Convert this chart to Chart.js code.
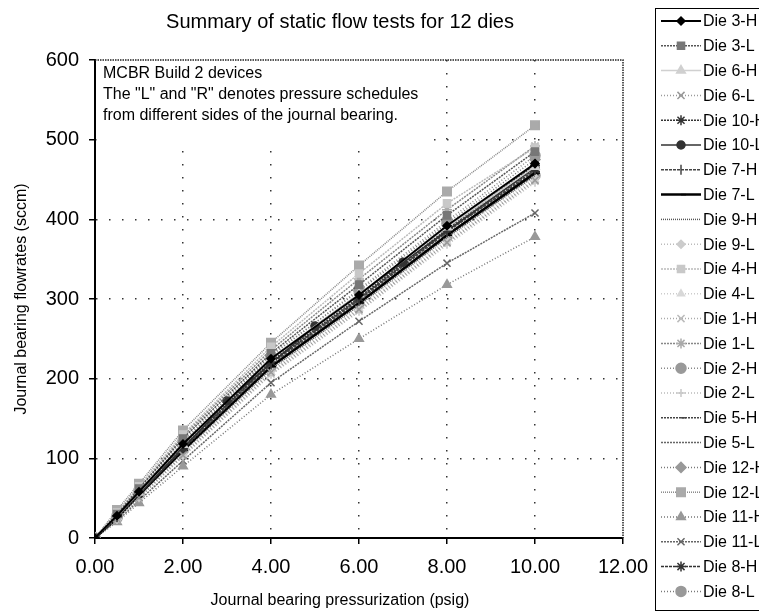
<!DOCTYPE html>
<html>
<head>
<meta charset="utf-8">
<title>Summary of static flow tests for 12 dies</title>
<script src="https://cdn.jsdelivr.net/npm/chart.js@4.4.1/dist/chart.umd.min.js"></script>
<style>
  html, body { margin: 0; padding: 0; background: #fff; }
  #wrap { width: 759px; height: 616px; position: relative; }
</style>
</head>
<body>
<div id="wrap"><canvas id="chart"></canvas></div>
<script>
// === DATA ===
// pressurization (psig) at which each die was measured
const P_STD = [0, 0.5, 1, 2, 4, 6, 8, 10];
const P_ALT = [0, 1, 2, 3, 5, 7, 10];

const X_TICKS = [0, 2, 4, 6, 8, 10, 12];
const Y_TICKS = [0, 100, 200, 300, 400, 500, 600];

// flowrates (sccm)
const die3H  = [0, 28, 58, 118, 225, 305, 392, 470];
const die3L  = [0, 30, 62, 125, 232, 318, 405, 485];
const die6H  = [0, 27, 57, 117, 226, 306, 390, 466];
const die6L  = [0, 24, 51, 104, 208, 287, 371, 449];
const die10H = [0, 27, 57, 115, 222, 302, 388, 468];
const die10L = [0, 55, 112, 172, 266, 346, 465];
const die7H  = [0, 26, 55, 112, 218, 298, 384, 462];
const die7L  = [0, 25, 54, 110, 215, 295, 380, 458];
const die9H  = [0, 25, 53, 108, 212, 292, 377, 455];
const die9L  = [0, 24, 52, 106, 210, 290, 374, 452];
const die4H  = [0, 32, 65, 130, 240, 332, 420, 490];
const die4L  = [0, 24, 52, 105, 208, 288, 372, 450];
const die1H  = [0, 23, 50, 103, 206, 285, 370, 448];
const die1L  = [0, 30, 62, 128, 236, 325, 412, 492];
const die2H  = [0, 28, 60, 122, 228, 312, 398, 480];
const die2L  = [0, 23, 50, 102, 205, 284, 368, 446];
const die5H  = [0, 26, 56, 113, 220, 300, 386, 463];
const die5L  = [0, 25, 54, 111, 216, 296, 381, 459];
const die12H = [0, 27, 58, 120, 230, 310, 395, 475];
const die12L = [0, 35, 68, 135, 245, 342, 435, 518];
const die11H = [0, 20, 44, 90, 180, 250, 318, 378];
const die11L = [0, 22, 47, 97, 195, 272, 345, 408];
const die8H  = [0, 26, 56, 114, 220, 300, 385, 460];
const die8L  = [0, 25, 55, 110, 215, 294, 378, 455];

const NOTE_LINES = [
  "MCBR Build 2 devices",
  "The \"L\" and \"R\" denotes pressure schedules",
  "from different sides of the journal bearing."
];

// === STYLES (excel grayscale look) ===
// [label, x, y, line colour, dash, line width, marker, marker size, marker colour]
const series = [
  ["Die 3-H",  P_STD, die3H,  "#000", [],     2,   "rectRot",  4, "#000"],
  ["Die 3-L",  P_STD, die3L,  "#555", [2, 1], 1.5, "rect",     5, "#777"],
  ["Die 6-H",  P_STD, die6H,  "#d0d0d0", [],  1.5, "triangle", 5, "#d0d0d0"],
  ["Die 6-L",  P_STD, die6L,  "#999", [1, 2], 1.5, "crossRot", 5, "#999"],
  ["Die 10-H", P_STD, die10H, "#333", [2, 1], 1.5, "star",     5, "#333"],
  ["Die 10-L", P_ALT, die10L, "#333", [],     1.5, "circle",   4, "#333"],
  ["Die 7-H",  P_STD, die7H,  "#444", [3, 1], 1.5, "line",     5, "#444"],
  ["Die 7-L",  P_STD, die7L,  "#000", [],     2.5, "dash",     5, "#000"],
  ["Die 9-H",  P_STD, die9H,  "#555", [1, 1], 1.5, false,      0, "#555"],
  ["Die 9-L",  P_STD, die9L,  "#bbb", [1, 2], 1.5, "rectRot",  4, "#ccc"],
  ["Die 4-H",  P_STD, die4H,  "#bbb", [2, 1], 1.5, "rect",     5, "#c8c8c8"],
  ["Die 4-L",  P_STD, die4L,  "#ccc", [1, 2], 1.5, "triangle", 4, "#d8d8d8"],
  ["Die 1-H",  P_STD, die1H,  "#aaa", [1, 2], 1.5, "crossRot", 5, "#bbb"],
  ["Die 1-L",  P_STD, die1L,  "#888", [2, 1], 1.5, "star",     5, "#aaa"],
  ["Die 2-H",  P_STD, die2H,  "#888", [1, 2], 1.5, "circle",   5, "#999"],
  ["Die 2-L",  P_STD, die2L,  "#bbb", [1, 2], 1.5, "cross",    4, "#c8c8c8"],
  ["Die 5-H",  P_STD, die5H,  "#444", [2, 1], 1.5, "dash",     5, "#444"],
  ["Die 5-L",  P_STD, die5L,  "#666", [2, 1], 1.5, false,      0, "#666"],
  ["Die 12-H", P_STD, die12H, "#777", [1, 2], 1.5, "rectRot",  5, "#999"],
  ["Die 12-L", P_STD, die12L, "#888", [1, 1], 1.5, "rect",     6, "#aaa"],
  ["Die 11-H", P_STD, die11H, "#777", [1, 2], 1.5, "triangle", 5, "#999"],
  ["Die 11-L", P_STD, die11L, "#666", [2, 1], 1.5, "crossRot", 5, "#666"],
  ["Die 8-H",  P_STD, die8H,  "#333", [3, 1], 1.5, "star",     5, "#333"],
  ["Die 8-L",  P_STD, die8L,  "#777", [1, 2], 1.5, "circle",   5, "#999"]
];

const FONT = "Arial, 'Liberation Sans', Helvetica, sans-serif";

const datasets = series.map(s => ({
  label: s[0],
  data: s[1].map((x, i) => ({ x: x, y: s[2][i] })),
  showLine: true,
  borderColor: s[3],
  borderDash: s[4],
  borderWidth: s[5],
  pointStyle: s[6],
  pointRadius: s[7],
  pointRotation: s[6] === "line" ? 90 : 0,
  pointBackgroundColor: s[8],
  pointBorderColor: s[8],
  pointBorderWidth: 1.5,
  tension: 0
}));

const hideEdges = (ctx) => {
  const v = ctx.tick && ctx.tick.value;
  const max = ctx.scale.max;
  return (v === 0 || v === max) ? "rgba(0,0,0,0)" : "#333";
};

// === PLUGINS ===
const decor = {
  id: "decor",
  beforeDatasetsDraw(chart) {
    const { ctx, chartArea: a } = chart;
    ctx.save();
    // note box covering the grid in the upper left
    ctx.fillStyle = "#fff";
    ctx.fillRect(a.left + 1.5, a.top, 333, 82);
    ctx.fillStyle = "#000";
    ctx.font = "16px " + FONT;
    ctx.textBaseline = "middle";
    NOTE_LINES.forEach((t, i) => ctx.fillText(t, a.left + 8, a.top + 14 + i * 21));
    // dotted top and right frame
    ctx.strokeStyle = "#222";
    ctx.lineWidth = 1.5;
    ctx.setLineDash([1.5, 1]);
    ctx.beginPath();
    ctx.moveTo(a.left, a.top);
    ctx.lineTo(a.right, a.top);
    ctx.lineTo(a.right, a.bottom);
    ctx.stroke();
    ctx.restore();
  },
  afterDraw(chart) {
    const { ctx, chartArea: a } = chart;
    ctx.save();
    ctx.fillStyle = "#000";
    ctx.textAlign = "center";
    ctx.textBaseline = "middle";
    ctx.font = "20px " + FONT;
    ctx.fillText("Summary of static flow tests for 12 dies", 340, 22);
    ctx.font = "16px " + FONT;
    ctx.fillText("Journal bearing pressurization (psig)", 340, 601);

    // legend
    const lx = 655, ly = 8;
    ctx.strokeStyle = "#000";
    ctx.lineWidth = 1;
    ctx.setLineDash([]);
    ctx.strokeRect(lx + 0.5, ly + 0.5, 130, 602);
    ctx.textAlign = "left";
    chart.data.datasets.forEach((ds, i) => {
      const y = ly + 13 + i * 24.8;
      ctx.save();
      ctx.strokeStyle = ds.borderColor;
      ctx.lineWidth = ds.borderWidth;
      ctx.setLineDash(ds.borderDash);
      ctx.beginPath();
      ctx.moveTo(lx + 6, y);
      ctx.lineTo(lx + 46, y);
      ctx.stroke();
      ctx.setLineDash([]);
      if (ds.pointStyle && Chart.helpers && Chart.helpers.drawPoint) {
        ctx.fillStyle = ds.pointBackgroundColor;
        ctx.strokeStyle = ds.pointBorderColor;
        ctx.lineWidth = ds.pointBorderWidth;
        Chart.helpers.drawPoint(ctx, {
          pointStyle: ds.pointStyle, radius: ds.pointRadius,
          rotation: ds.pointRotation, borderWidth: ds.pointBorderWidth
        }, lx + 26, y);
      }
      ctx.restore();
      ctx.fillText(ds.label, lx + 48, y + 1);
    });
    ctx.restore();
  }
};

new Chart(document.getElementById("chart"), {
  type: "scatter",
  data: { datasets },
  plugins: [decor],
  options: {
    responsive: true,
    maintainAspectRatio: false,
    animation: false,
    layout: { padding: { top: 60, right: 136, left: 0, bottom: 0 } },
    plugins: { legend: { display: false }, title: { display: false }, tooltip: { enabled: false } },
    scales: {
      x: {
        type: "linear", min: 0, max: 12,
        afterBuildTicks: (s) => { s.ticks = X_TICKS.map(v => ({ value: v })); },
        afterFit: (s) => { s.height = 78; },
        ticks: {
          color: "#000", padding: 11, maxRotation: 0,
          font: { family: FONT, size: 20 },
          callback: (v) => Number(v).toFixed(2)
        },
        grid: { color: hideEdges, lineWidth: 1.5, tickLength: 6, tickColor: "#000", tickWidth: 1.5 },
        border: { color: "#000", width: 2, dash: [1.5, 11.5] }
      },
      y: {
        type: "linear", min: 0, max: 600,
        afterBuildTicks: (s) => { s.ticks = Y_TICKS.map(v => ({ value: v })); },
        afterFit: (s) => { s.width = 95; },
        ticks: { color: "#000", padding: 10, font: { family: FONT, size: 20 } },
        grid: { color: hideEdges, lineWidth: 1.5, tickLength: 6, tickColor: "#000", tickWidth: 1.5 },
        border: { color: "#000", width: 2, dash: [1.5, 11.5] },
        title: {
          display: true, text: "Journal bearing flowrates (sccm)", color: "#000",
          font: { family: FONT, size: 16 }, padding: { top: 12, bottom: 0 }
        }
      }
    }
  }
});
</script>
</body>
</html>
